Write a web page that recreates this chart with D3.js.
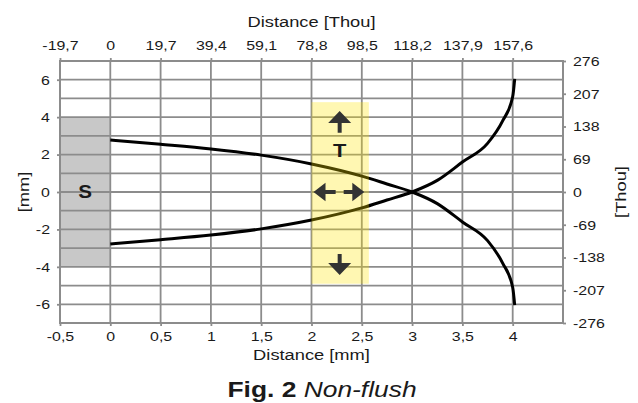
<!DOCTYPE html>
<html>
<head>
<meta charset="utf-8">
<script src="https://cdn.jsdelivr.net/npm/d3@7"></script>
<style>
  body { margin: 0; background: #fff; }
  svg { display: block; }
  svg text { font-family: "Liberation Sans", Arial, Helvetica, sans-serif; }
  .tick text { font-size: 13.5px; fill: #1a1a1a; }
  .tick line { stroke: #8c8c8c; stroke-width: 1.8; }
  .domain { display: none; }
  .grid line { stroke: #8c8c8c; stroke-width: 1.8; }
  .curve { fill: none; stroke: #000; stroke-width: 3; }
</style>
</head>
<body>
<div id="chart"></div>
<script>
// values (mm)
var bottomTicks = [-0.5, 0, 0.5, 1, 1.5, 2, 2.5, 3, 3.5, 4];
var bottomLabels = ["-0,5", "0", "0,5", "1", "1,5", "2", "2,5", "3", "3,5", "4"];
var topLabels = ["-19,7", "0", "19,7", "39,4", "59,1", "78,8", "98,5", "118,2", "137,9", "157,6"];
var leftTicks = [-6, -4, -2, 0, 2, 4, 6];
var rightTicks = [-276, -207, -138, -69, 0, 69, 138, 207, 276];
var gridX = [0, 0.5, 1, 1.5, 2, 2.5, 3, 3.5, 4];
var gridY = [-6, -5, -4, -3, -2, -1, 0, 1, 2, 3, 4, 5, 6];

var curveX = [0, 0.5, 1, 1.5, 2, 2.5, 2.75, 3, 3.25, 3.5, 3.75, 3.9, 4.0, 4.02];
var curveDown = [2.78, 2.55, 2.3, 1.97, 1.5, 0.85, 0.43, 0, -0.62, -1.6, -2.6, -3.8, -5.1, -6.05];
var curveUp = [-2.78, -2.55, -2.3, -1.97, -1.5, -0.85, -0.43, 0, 0.62, 1.6, 2.6, 3.8, 5.1, 6.05];

var sBox = { x0: -0.5, x1: 0, y0: -4, y1: 4 };
var tBox = { x0: 2.0, x1: 2.57, y0: -4.9, y1: 4.8 };
var arrows = [
  { from: [2.28, 3.17], to: [2.28, 4.33] },
  { from: [2.28, -3.31], to: [2.28, -4.44] },
  { from: [2.24, 0], to: [2.02, 0] },
  { from: [2.32, 0], to: [2.525, 0] }
];

var width = 638, height = 403;
var margin = { left: 60, right: 75, top: 61, bottom: 80 };
var stretch = 1.18;

var svg = d3.select("#chart").append("svg")
    .attr("width", width).attr("height", height);

var x = d3.scaleLinear().domain([-0.5, 4.5]).range([margin.left, width - margin.right]);
var y = d3.scaleLinear().domain([-7, 7]).range([height - margin.bottom, margin.top]);
var yThou = d3.scaleLinear().domain([-276, 276]).range([height - margin.bottom, margin.top]);

// gray "S" block
svg.append("rect")
    .attr("x", x(sBox.x0)).attr("y", y(sBox.y1))
    .attr("width", x(sBox.x1) - x(sBox.x0)).attr("height", y(sBox.y0) - y(sBox.y1))
    .attr("fill", "#c8c8c8");

// grid
var grid = svg.append("g").attr("class", "grid");
grid.selectAll(".gx").data(gridX).enter().append("line")
    .attr("x1", function(d) { return x(d); }).attr("x2", function(d) { return x(d); })
    .attr("y1", y(7)).attr("y2", y(-7));
grid.selectAll(".gy").data(gridY).enter().append("line")
    .attr("y1", function(d) { return y(d); }).attr("y2", function(d) { return y(d); })
    .attr("x1", x(-0.5)).attr("x2", x(4.5));
svg.append("rect")
    .attr("x", x(-0.5)).attr("y", y(7))
    .attr("width", x(4.5) - x(-0.5)).attr("height", y(-7) - y(7))
    .attr("fill", "none").attr("stroke", "#8c8c8c").attr("stroke-width", 2);

// axes
var fmt = function(labels, ticks) {
  return function(d) { return labels[ticks.indexOf(d)]; };
};
svg.append("g").attr("transform", "translate(0," + y(-7) + ")")
    .call(d3.axisBottom(x).tickValues(bottomTicks).tickFormat(fmt(bottomLabels, bottomTicks))
      .tickSize(3).tickSizeOuter(0).tickPadding(5.5));
svg.append("g").attr("transform", "translate(0," + y(7) + ")")
    .call(d3.axisTop(x).tickValues(bottomTicks).tickFormat(fmt(topLabels, bottomTicks))
      .tickSize(3).tickSizeOuter(0).tickPadding(8));
svg.append("g").attr("transform", "translate(" + x(-0.5) + ",0)")
    .call(d3.axisLeft(y).tickValues(leftTicks).tickFormat(function(d) { return d; })
      .tickSize(3).tickSizeOuter(0).tickPadding(5.5));
svg.append("g").attr("transform", "translate(" + x(4.5) + ",0)")
    .call(d3.axisRight(yThou).tickValues(rightTicks).tickFormat(function(d) { return d; })
      .tickSize(3).tickSizeOuter(0).tickPadding(5.5));
svg.selectAll(".tick text").attr("transform", "scale(" + stretch + ",1)");

// curves
var line = d3.line().curve(d3.curveMonotoneX)
    .x(function(d) { return x(d[0]); }).y(function(d) { return y(d[1]); });
svg.append("path").attr("class", "curve").attr("d", line(d3.zip(curveX, curveDown)));
svg.append("path").attr("class", "curve").attr("d", line(d3.zip(curveX, curveUp)));

// yellow tolerance box
svg.append("rect")
    .attr("x", x(tBox.x0)).attr("y", y(tBox.y1))
    .attr("width", x(tBox.x1) - x(tBox.x0)).attr("height", y(tBox.y0) - y(tBox.y1))
    .attr("fill", "#ffe600").attr("fill-opacity", 0.3);

// arrows (heads a bit wider on the vertical ones, like the stretched original)
function arrowPath(a) {
  var x1 = x(a.from[0]), y1 = y(a.from[1]), x2 = x(a.to[0]), y2 = y(a.to[1]);
  var dx = x2 - x1, dy = y2 - y1, len = Math.sqrt(dx * dx + dy * dy);
  var ux = dx / len, uy = dy / len, px = -uy, py = ux;
  var head = 12, hw = 11.5 * Math.abs(uy) + 9.2 * Math.abs(ux), sw = 2;
  var bx = x2 - ux * head, by = y2 - uy * head;
  var pts = [
    [x1 + px * sw, y1 + py * sw], [bx + px * sw, by + py * sw], [bx + px * hw, by + py * hw],
    [x2, y2],
    [bx - px * hw, by - py * hw], [bx - px * sw, by - py * sw], [x1 - px * sw, y1 - py * sw]
  ];
  return "M" + pts.join("L") + "Z";
}
svg.selectAll(".arrow").data(arrows).enter().append("path")
    .attr("class", "arrow").attr("d", arrowPath).attr("fill", "#333");

function stretchedText(px, py, str, size, weight, rot) {
  return svg.append("text")
      .attr("transform", "translate(" + px + "," + py + ")" + (rot ? " rotate(-90)" : "") +
        " scale(" + stretch + ",1)")
      .attr("text-anchor", "middle")
      .style("font-size", size + "px")
      .style("font-weight", weight || "normal")
      .attr("fill", "#1a1a1a")
      .text(str);
}

stretchedText(x(2.28), y(2.2) + 6.5, "T", 18.5, "bold");
stretchedText(x(-0.25), y(0) + 6, "S", 17.5, "bold");

// titles
stretchedText(x(2), 27, "Distance [Thou]", 15.5);
stretchedText(x(2), 360, "Distance [mm]", 15.5);
stretchedText(29, y(0), "[mm]", 15.5, "normal", true);
stretchedText(626, y(0), "[Thou]", 15.5, "normal", true);

var cap = svg.append("text")
    .attr("transform", "translate(322,397) scale(1.2,1)")
    .attr("text-anchor", "middle")
    .style("font-size", "22px").attr("fill", "#1a1a1a");
cap.append("tspan").style("font-weight", "bold").text("Fig. 2 ");
cap.append("tspan").style("font-style", "italic").text("Non-flush");
</script>
</body>
</html>
